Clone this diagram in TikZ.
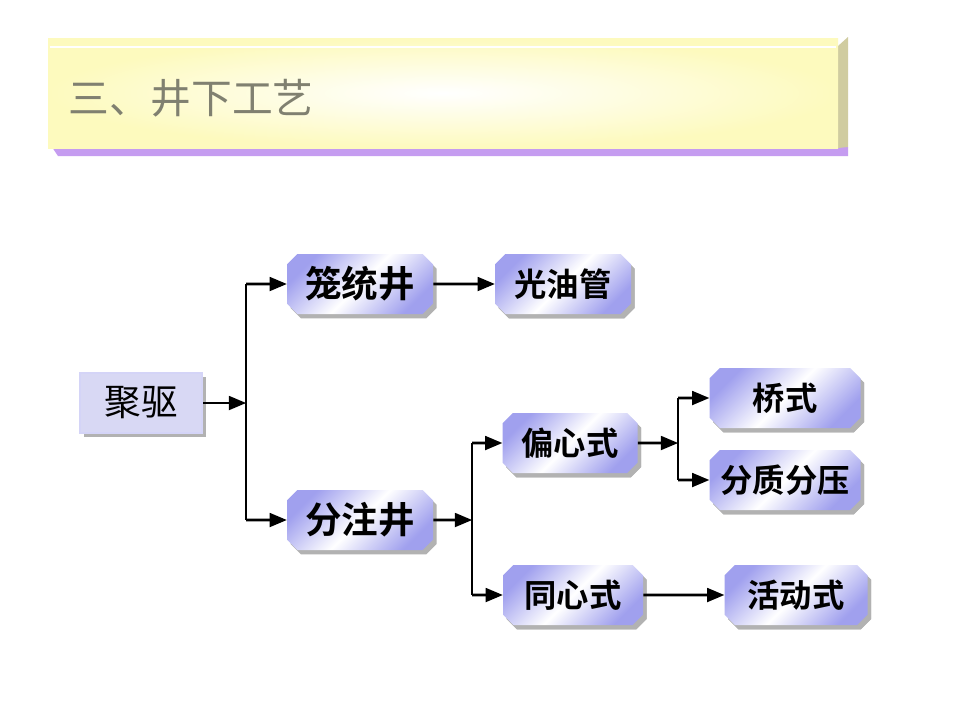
\documentclass[tikz,border=0pt]{standalone}
\usepackage{fontspec}
\newfontfamily\cjk{Noto Sans CJK SC}[BoldFont={Noto Sans CJK SC Bold}]
\usepackage{pgf,tikz}
\usetikzlibrary{arrows,shapes.misc,shadows}

\definecolor{lila}{RGB}{160,160,238}
\definecolor{hellila}{RGB}{216,216,244}
\definecolor{titelgelb}{RGB}{253,250,190}
\definecolor{kante}{RGB}{208,204,160}
\definecolor{violett}{RGB}{197,156,240}
\definecolor{titelgrau}{RGB}{128,128,112}

\tikzset{
	kasten/.style={chamfered rectangle,chamfered rectangle xsep=1.6mm,inner sep=0pt,
		top color=lila,bottom color=lila,middle color=white,shading angle=45,
		drop shadow={shadow xshift=0.9mm,shadow yshift=-1.1mm,fill=black!30,opacity=1},
		font=\cjk\bfseries\fontsize{23}{23}\selectfont},
	gross/.style={font=\cjk\bfseries\fontsize{26}{26}\selectfont},
	pfeil/.style={->,line width=0.65mm},
	linie/.style={line width=0.65mm}
}

\begin{document}
\begin{tikzpicture}[>=triangle 45,x=0.25mm,y=-0.25mm]
				\useasboundingbox[fill=white] (0,0) rectangle (960,720);
				
				%Titelbalken zeichnen
				\fill[violett] (52,147) -- (848,147) -- (848,156) -- (58,156) -- cycle;
				\fill[kante] (838,46) -- (848,37) -- (848,147) -- (838,148) -- cycle;
				\shade[inner color=white,outer color=titelgelb] (48,38) rectangle (838,148);
				\draw[white,line width=0.3mm] (50,47) -- (836,47);
				\node[anchor=west,text=titelgrau,font=\cjk\fontsize{29}{29}\selectfont] (titel) at (64,98) {三、井下工艺};
				
				%Kaesten zeichnen
				\node[rectangle,fill=hellila,draw=lila!45,line width=0.5mm,minimum width=30.5mm,minimum height=15mm,
					drop shadow={shadow xshift=0.9mm,shadow yshift=-1.1mm,fill=black!30,opacity=1},
					font=\cjk\fontsize{26}{26}\selectfont] (jq) at (141,403) {聚驱};
				\foreach \name/\x/\y/\w/\txt/\stil in
					{lt/360/284/146/笼统井/gross,fz/360/520/146/分注井/gross,
					 gy/563/284/136/光油管/kasten,px/570/443/135/偏心式/kasten,
					 tx/573/595/140/同心式/kasten,qs/785/398/151/桥式/kasten,
					 fy/785/480/151/分质分压/kasten,hd/796/595/143/活动式/kasten}
						\node[kasten,\stil,minimum width=\w*0.25mm,minimum height=15mm] (\name) at (\x,\y) {\txt};
				
				%Verbindungen zeichnen
				\coordinate (k1) at (246,403);
				\coordinate (k2) at (472,520);
				\coordinate (k3) at (678,443);
				\draw[pfeil] (jq) -- (k1);
				\draw[linie] (k1 |- lt) -- (k1 |- fz);
				\draw[pfeil] (k1 |- lt) -- (lt);
				\draw[pfeil] (k1 |- fz) -- (fz);
				\draw[pfeil] (lt) -- (gy);
				\draw[pfeil] (fz) -- (k2);
				\draw[linie] (k2 |- px) -- (k2 |- tx);
				\draw[pfeil] (k2 |- px) -- (px);
				\draw[pfeil] (k2 |- tx) -- (tx);
				\draw[pfeil] (px) -- (k3);
				\draw[linie] (k3 |- qs) -- (k3 |- fy);
				\draw[pfeil] (k3 |- qs) -- (qs);
				\draw[pfeil] (k3 |- fy) -- (fy);
				\draw[pfeil] (tx) -- (hd);
	\end{tikzpicture}
\end{document}
